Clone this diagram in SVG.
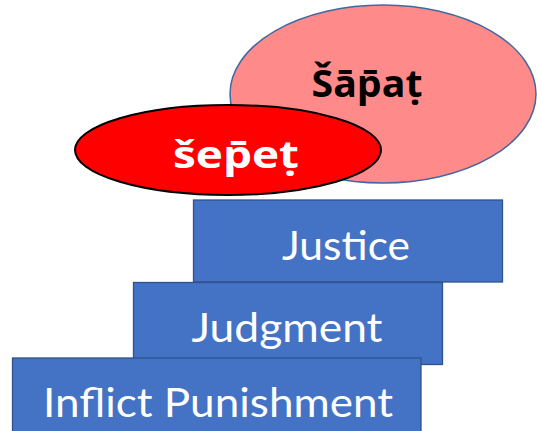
<svg xmlns="http://www.w3.org/2000/svg" width="537" height="431" viewBox="0 0 537 431">
<style>
.box{fill:#4472C4;stroke:#2F528F;stroke-width:1.3}
.bt{font-family:Lato,"Open Sans","Liberation Sans",sans-serif;font-size:41px;fill:#ffffff;text-anchor:middle}
.et{font-family:"Open Sans","Liberation Sans",sans-serif;font-weight:bold;font-size:38px;text-anchor:middle}
</style>
<rect width="537" height="431" fill="#ffffff"/>
<g id="sapat">
<ellipse cx="383" cy="94" rx="153" ry="89" fill="#FF8A8A" stroke="#41689F" stroke-width="1.5"/>
<text class="et" x="367" y="97" fill="#000000" textLength="111" lengthAdjust="spacingAndGlyphs">Šāp̄aṭ</text>
</g>
<g id="sepet">
<ellipse cx="228" cy="150" rx="153" ry="45" fill="#FF0000" stroke="#000000" stroke-width="2"/>
<text class="et" x="236" y="168" fill="#ffffff" font-size="43" textLength="126" lengthAdjust="spacingAndGlyphs">šep̄eṭ</text>
</g>
<g id="justice">
<rect class="box" x="193.5" y="200" width="309" height="82"/>
<text class="bt" x="346" y="260" textLength="128" lengthAdjust="spacingAndGlyphs">Justice</text>
</g>
<g id="judgment">
<rect class="box" x="133.5" y="282.5" width="309" height="82"/>
<text class="bt" x="287" y="342" textLength="191" lengthAdjust="spacingAndGlyphs">Judgment</text>
</g>
<g id="inflict">
<rect class="box" x="12.5" y="358" width="408.5" height="80"/>
<text class="bt" x="218" y="417" textLength="350" lengthAdjust="spacingAndGlyphs">Inflict Punishment</text>
</g>
<g id="connectors"/>
</svg>
